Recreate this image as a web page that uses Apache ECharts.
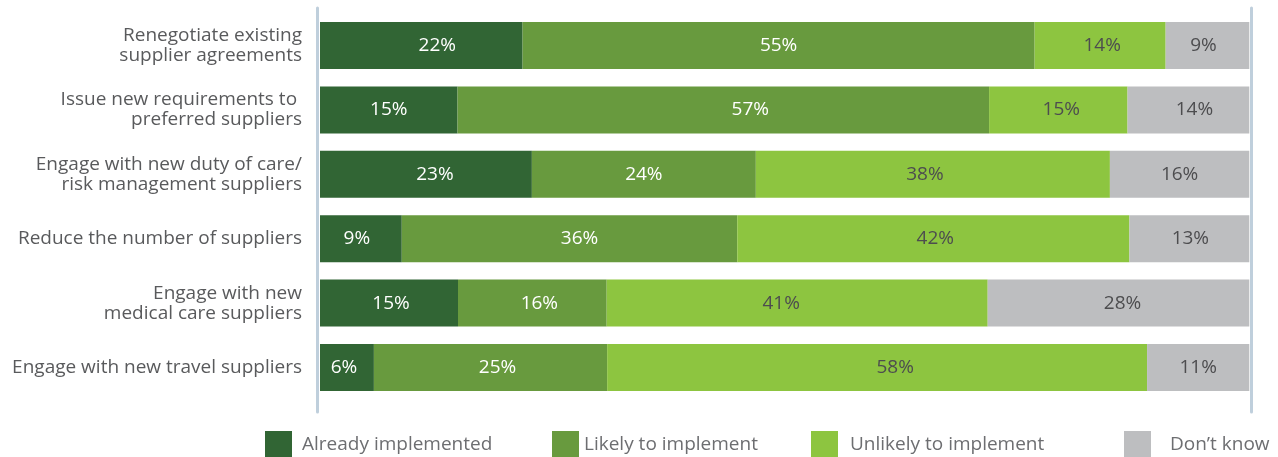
<!DOCTYPE html>
<html><head><meta charset="utf-8">
<script src="https://cdn.jsdelivr.net/npm/echarts@6/dist/echarts.min.js"></script>
<style>html,body{margin:0;padding:0;background:#fff}#c{width:1278px;height:457px}</style>
</head><body><div id="c"></div>
<script>
var categories = [
  "Renegotiate existing\nsupplier agreements",
  "Issue new requirements to \npreferred suppliers",
  "Engage with new duty of care/\nrisk management suppliers",
  "Reduce the number of suppliers",
  "Engage with new\nmedical care suppliers",
  "Engage with new travel suppliers"
];
var seriesNames = ["Already implemented", "Likely to implement", "Unlikely to implement", "Don\u2019t know"];
// bar lengths (percent of full bar)
var alreadyImplemented = [21.8, 14.8, 22.8, 8.8, 14.85, 5.8];
var likelyToImplement = [55.1, 57.2, 24.1, 36.1, 16.0, 25.1];
var unlikelyToImplement = [14.1, 14.9, 38.1, 42.2, 41.0, 58.1];
var dontKnow = [9.0, 13.1, 15.0, 12.9, 28.2, 11.0];
// printed labels
var alreadyLabels = [22, 15, 23, 9, 15, 6];
var likelyLabels = [55, 57, 24, 36, 16, 25];
var unlikelyLabels = [14, 15, 38, 42, 41, 58];
var dontKnowLabels = [9, 14, 16, 13, 28, 11];

// horizontal nudges of the printed labels (styling, px)
var labelNudges = [
  [16, 0, 9, -4, 2, -3],
  [0, 27, 0, 10, 7, 7],
  [2, 3, -8, 2, -16, 18],
  [-4, 6, 0, 1, 4, 0]
];

var colors = ["#316534", "#689a3e", "#8dc540", "#bdbec0"];
var labelColors = ["#ffffff", "#ffffff", "#4d4d4f", "#4d4d4f"];
var values = [alreadyImplemented, likelyToImplement, unlikelyToImplement, dontKnow];
var labels = [alreadyLabels, likelyLabels, unlikelyLabels, dontKnowLabels];
var FONT = "Open Sans";

var chart = echarts.init(document.getElementById('c'));
var series = seriesNames.map(function (n, i) {
  return {
    name: n, type: 'bar', stack: 'total', barWidth: 47,
    xAxisIndex: 0, yAxisIndex: 0,
    itemStyle: { color: colors[i] },
    data: values[i].map(function (v, j) {
      return { value: v, label: { offset: [labelNudges[i][j], 0] } };
    }),
    label: {
      show: true, position: 'inside', color: labelColors[i],
      fontFamily: FONT, fontSize: 19,
      formatter: function (p) { return labels[i][p.dataIndex] + '%'; }
    },
    emphasis: { disabled: true }
  };
});
var legendX = [265, 552, 811, 1124];
var legendGap = [5, 0, 7, 14];
var legends = seriesNames.map(function (n, i) {
  return {
    data: [n], left: legendX[i], top: 431, padding: 0, itemWidth: 27, itemHeight: 27, itemGap: 0,
    icon: 'rect', selectedMode: false,
    textStyle: { fontFamily: FONT, fontSize: 19, color: '#6d6e71', padding: [6, 0, 0, legendGap[i]] }
  };
});
chart.setOption({
  animation: false,
  color: colors,
  legend: legends,
  grid: [
    { left: 320, right: 28.7, top: 13.3, height: 386.4 },
    { left: 317.5, right: 27, top: 8, bottom: 45 }
  ],
  xAxis: [
    { gridIndex: 0, type: 'value', min: 0, max: 100, show: false },
    { gridIndex: 1, type: 'value', min: 0, max: 1, show: false }
  ],
  yAxis: [
    { gridIndex: 0, type: 'category', inverse: true, data: categories,
      axisLine: { show: false }, axisTick: { show: false }, splitLine: { show: false },
      axisLabel: { fontFamily: FONT, fontSize: 19, color: '#595a5c', lineHeight: 20, margin: 18, align: 'right' } },
    { gridIndex: 1, type: 'value', position: 'left', show: true,
      axisLine: { show: true, lineStyle: { color: '#bfcfdc', width: 3 } },
      axisTick: { show: false }, axisLabel: { show: false }, splitLine: { show: false } },
    { gridIndex: 1, type: 'value', position: 'right', show: true,
      axisLine: { show: true, lineStyle: { color: '#bfcfdc', width: 3 } },
      axisTick: { show: false }, axisLabel: { show: false }, splitLine: { show: false } }
  ],
  series: series
});
</script></body></html>
